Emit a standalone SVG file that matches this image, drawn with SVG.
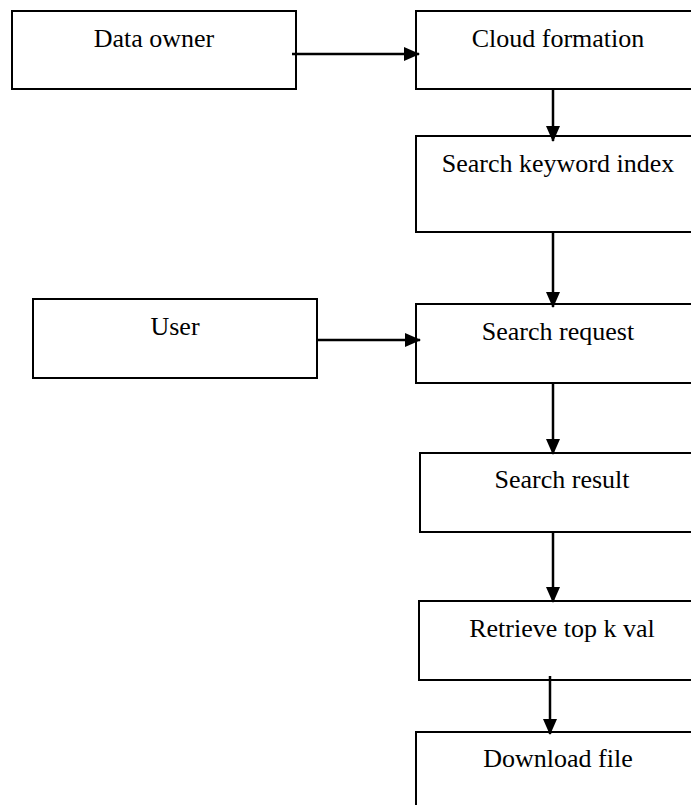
<svg xmlns="http://www.w3.org/2000/svg" width="691" height="805" viewBox="0 0 691 805">
  <style>
    .box { fill: #ffffff; stroke: #000000; stroke-width: 2; }
    .lbl { font-family: "Liberation Serif", "Times New Roman", serif; font-size: 26px; fill: #000000; text-anchor: middle; }
    .conn { stroke: #000000; stroke-width: 2.5; fill: none; }
  </style>
  <defs>
    <marker id="arrow" markerWidth="16" markerHeight="14" refX="15" refY="7" orient="auto" markerUnits="userSpaceOnUse">
      <path d="M0,0 L16,7 L0,14 Z" fill="#000000"/>
    </marker>
  </defs>
  <rect width="691" height="805" fill="#ffffff"/>

  <g id="node-data-owner">
    <rect class="box" x="12" y="11" width="284" height="78"/>
    <text class="lbl" x="154" y="47">Data owner</text>
  </g>
  <g id="node-cloud-formation">
    <rect class="box" x="416" y="11" width="290" height="78"/>
    <text class="lbl" x="558" y="47">Cloud formation</text>
  </g>
  <g id="node-search-keyword-index">
    <rect class="box" x="416" y="136" width="290" height="96"/>
    <text class="lbl" x="558" y="172">Search keyword index</text>
  </g>
  <g id="node-user">
    <rect class="box" x="33" y="299" width="284" height="79"/>
    <text class="lbl" x="175" y="335">User</text>
  </g>
  <g id="node-search-request">
    <rect class="box" x="416" y="304" width="290" height="79"/>
    <text class="lbl" x="558" y="340">Search request</text>
  </g>
  <g id="node-search-result">
    <rect class="box" x="420" y="453" width="286" height="79"/>
    <text class="lbl" x="562" y="488">Search result</text>
  </g>
  <g id="node-retrieve">
    <rect class="box" x="419" y="601" width="287" height="79"/>
    <text class="lbl" x="562" y="637">Retrieve top k val</text>
  </g>
  <g id="node-download">
    <rect class="box" x="416" y="732" width="290" height="90"/>
    <text class="lbl" x="558" y="767">Download file</text>
  </g>

  <g id="connectors">
    <line class="conn" x1="292" y1="54" x2="419" y2="54" marker-end="url(#arrow)"/>
    <line class="conn" x1="553" y1="89" x2="553" y2="141" marker-end="url(#arrow)"/>
    <line class="conn" x1="553" y1="232" x2="553" y2="307" marker-end="url(#arrow)"/>
    <line class="conn" x1="317" y1="340" x2="420" y2="340" marker-end="url(#arrow)"/>
    <line class="conn" x1="553" y1="383" x2="553" y2="454" marker-end="url(#arrow)"/>
    <line class="conn" x1="553" y1="532" x2="553" y2="602" marker-end="url(#arrow)"/>
    <line class="conn" x1="550" y1="676" x2="550" y2="734" marker-end="url(#arrow)"/>
  </g>
</svg>
